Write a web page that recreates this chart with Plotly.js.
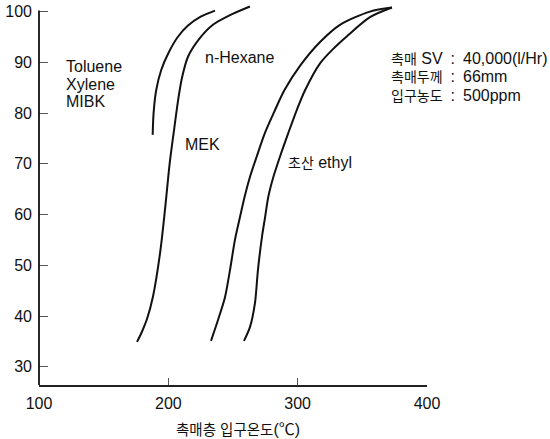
<!DOCTYPE html>
<html>
<head>
<meta charset="utf-8">
<script src="https://cdn.plot.ly/plotly-3.0.1.min.js"></script>
<style>html,body{margin:0;padding:0;background:#fff;}#chart{width:550px;height:439px;}</style>
</head>
<body>
<div id="chart"></div>
<script>
// Series: conversion (%) vs catalyst bed inlet temperature (°C)
const tolueneX = [187.9, 188.6, 190.6, 194.5, 200.0, 207.0, 215.0, 225.0, 236.1];
const tolueneY = [75.7, 80.0, 84.5, 88.5, 91.8, 94.9, 97.2, 99.0, 100.2];

const mekX = [175.8, 179.6, 183.5, 188.1, 193.6, 197.4, 201.0, 204.6, 207.6, 210.6, 215.2, 224.5, 234.5, 247.7, 263.1];
const mekY = [34.9, 36.9, 39.4, 43.8, 52.4, 60.9, 70.0, 77.0, 82.6, 87.0, 91.1, 94.8, 97.4, 99.3, 101.0];

const hexaneX = [233.0, 238.4, 243.8, 247.7, 251.5, 255.4, 258.9, 263.1, 268.3, 274.7, 282.5, 289.7, 301.8, 317.3, 332.7, 355.9, 372.9];
const hexaneY = [35.1, 39.2, 43.7, 49.1, 55.0, 59.5, 63.4, 67.4, 71.4, 76.1, 80.6, 84.5, 89.3, 94.0, 97.4, 100.0, 100.8];

const ethylX = [258.5, 263.1, 267.0, 269.3, 272.4, 274.7, 277.3, 281.2, 286.3, 292.8, 299.3, 305.7, 317.3, 327.3, 337.9, 355.9, 372.9];
const ethylY = [35.1, 37.8, 42.6, 49.1, 55.6, 59.3, 63.5, 67.4, 71.4, 76.1, 80.6, 84.5, 89.8, 92.6, 95.1, 98.9, 100.8];

const xTicks = [100, 200, 300, 400];
const yTicks = [30, 40, 50, 60, 70, 80, 90, 100];

const FONT = '"Liberation Sans", Arial, "Noto Sans CJK KR", sans-serif';
const ko = s => '<span style="font-size:14px">' + s + '</span>';
const lineStyle = {color: '#111', width: 2, shape: 'spline', smoothing: 0.8};

const traces = [
  {x: tolueneX, y: tolueneY, name: 'Toluene/Xylene/MIBK'},
  {x: mekX, y: mekY, name: 'MEK'},
  {x: hexaneX, y: hexaneY, name: 'n-Hexane'},
  {x: ethylX, y: ethylY, name: '초산 ethyl'}
].map(t => Object.assign(t, {type: 'scatter', mode: 'lines', line: lineStyle, hoverinfo: 'skip'}));

const txt = (text, x, y, extra) => Object.assign({
  text: text, x: x, y: y, xref: 'x', yref: 'y', showarrow: false,
  xanchor: 'left', yanchor: 'middle', font: {family: FONT, size: 16, color: '#111'}
}, extra || {});

const layout = {
  width: 550, height: 439,
  margin: {l: 39, r: 123, t: 4, b: 54, pad: 0},
  paper_bgcolor: '#fff', plot_bgcolor: '#fff',
  showlegend: false,
  font: {family: FONT, size: 16, color: '#111'},
  xaxis: {
    range: [100, 400], tickvals: xTicks, ticktext: xTicks.map(String),
    showgrid: false, zeroline: false,
    showline: true, linecolor: '#222', linewidth: 1.5,
    ticks: 'inside', ticklen: 7, tickwidth: 1, tickcolor: '#555',
    tickfont: {family: FONT, size: 16, color: '#111'},
    ticklabelstandoff: 3
  },
  yaxis: {
    range: [26.4, 101.5], tickvals: yTicks, ticktext: yTicks.map(String),
    showgrid: false, zeroline: false, showline: false,
    ticks: 'inside', ticklen: 9, tickwidth: 1, tickcolor: '#555',
    tickfont: {family: FONT, size: 16, color: '#111'},
    ticklabelstandoff: 6
  },
  shapes: [
    {type: 'line', xref: 'paper', yref: 'y', x0: 0, x1: 0, y0: 26.4, y1: 100.2,
     line: {color: '#111', width: 1.8}}
  ],
  annotations: [
    txt('Toluene', 119.3, 89.2),
    txt('Xylene', 119.3, 85.6),
    txt('MIBK', 119.3, 82.3),
    txt('n-Hexane', 226.8, 90.9),
    txt('MEK', 211.3, 73.8),
    txt(ko('초산') + ' ethyl', 291.0, 70.2),
    txt(ko('촉매') + ' SV\u2002:\u200240,000(l/Hr)', 370.6, 90.8),
    txt(ko('촉매두께') + '\u2002:\u200266mm', 370.6, 87.2),
    txt(ko('입구농도') + '\u2002:\u2002500ppm', 370.6, 83.4),
    {text: '<span style="font-size:14.5px">촉매층 입구온도</span>(℃)', xref: 'paper', yref: 'paper', x: 0.513, y: -0.118,
     xanchor: 'center', yanchor: 'middle', showarrow: false,
     font: {family: FONT, size: 16, color: '#111'}}
  ]
};

Plotly.newPlot('chart', traces, layout, {staticPlot: true, displayModeBar: false});
</script>
</body>
</html>
